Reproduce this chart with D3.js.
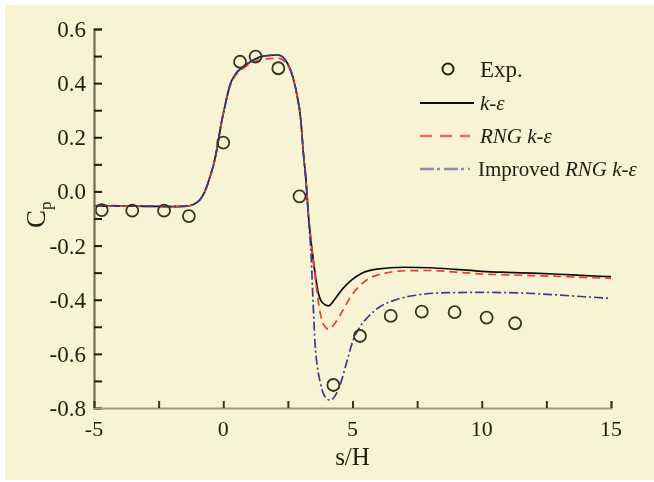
<!DOCTYPE html>
<html>
<head>
<meta charset="utf-8">
<script src="https://cdn.jsdelivr.net/npm/d3@7"></script>
<style>
  body { margin: 0; background: #fff; }
  text { font-family: "Liberation Serif", "Times New Roman", Times, serif; fill: #221d12; }
</style>
</head>
<body>
<svg width="654" height="482"></svg>
<script>
var svg = d3.select('svg');
var w = 654;
var h = 482;

// axis ticks
var xTicks = [-5, 0, 5, 10, 15];
var xMinor = [-2.5, 2.5, 7.5, 12.5];
var yTicks = [0.6, 0.4, 0.2, 0.0, -0.2, -0.4, -0.6, -0.8];
var yMinor = [0.5, 0.3, 0.1, -0.1, -0.3, -0.5, -0.7];

// experiment
var expData = [[-4.70,-0.069],[-3.52,-0.071],[-2.29,-0.071],[-1.33,-0.091],[0.0,0.18],
  [0.65,0.479],[1.25,0.498],[2.13,0.455],[2.95,-0.018],[4.26,-0.715],[5.29,-0.534],
  [6.48,-0.46],[7.68,-0.444],[8.95,-0.446],[10.19,-0.466],[11.29,-0.487]];

// k-epsilon
var keData = [[-5,-0.054],[-4,-0.054],[-3,-0.055],[-2,-0.056],[-1.5,-0.055],[-1.2,-0.05],
  [-0.9,-0.031],[-0.71,0.0],[-0.51,0.055],[-0.36,0.104],[-0.23,0.165],[-0.1,0.239],
  [0.03,0.30],[0.16,0.356],[0.26,0.393],[0.45,0.43],[0.78,0.461],[1.16,0.485],[1.55,0.50],
  [2.13,0.504],[2.45,0.479],[2.69,0.424],[2.84,0.362],[3.0,0.264],[3.1,0.141],[3.2,0.042],
  [3.29,-0.081],[3.42,-0.204],[3.55,-0.302],[3.68,-0.376],[3.85,-0.412],[4.07,-0.423],
  [4.3,-0.40],[4.58,-0.364],[4.97,-0.327],[5.36,-0.302],[5.94,-0.287],[7,-0.28],[8,-0.282],
  [9,-0.288],[10,-0.295],[11,-0.299],[12,-0.302],[13,-0.306],[14,-0.311],[15,-0.315]];

// RNG k-epsilon
var rngData = [[-5,-0.054],[-4,-0.054],[-3,-0.055],[-2,-0.056],[-1.5,-0.055],[-1.2,-0.05],
  [-0.9,-0.031],[-0.71,0.0],[-0.51,0.055],[-0.36,0.104],[-0.23,0.165],[-0.1,0.239],
  [0.03,0.30],[0.16,0.352],[0.26,0.388],[0.45,0.425],[0.78,0.455],[1.16,0.476],[1.55,0.488],
  [2.13,0.492],[2.45,0.472],[2.69,0.42],[2.84,0.36],[3.0,0.264],[3.1,0.141],[3.2,0.042],
  [3.29,-0.081],[3.42,-0.204],[3.55,-0.31],[3.74,-0.444],[3.9,-0.495],[4.07,-0.509],
  [4.3,-0.49],[4.52,-0.457],[4.97,-0.383],[5.55,-0.327],[6.26,-0.302],[7.03,-0.293],
  [8,-0.292],[9,-0.298],[10,-0.305],[11,-0.308],[12,-0.311],[13,-0.314],[14,-0.318],[15,-0.321]];

// improved RNG k-epsilon
var impData = [[-5,-0.052],[-4,-0.053],[-3,-0.054],[-2,-0.055],[-1.5,-0.054],[-1.2,-0.049],
  [-0.9,-0.03],[-0.71,0.0],[-0.51,0.055],[-0.36,0.104],[-0.23,0.165],[-0.1,0.239],
  [0.03,0.30],[0.16,0.356],[0.26,0.393],[0.45,0.43],[0.78,0.461],[1.16,0.485],[1.55,0.50],
  [2.13,0.503],[2.45,0.478],[2.69,0.424],[2.84,0.362],[3.0,0.264],[3.1,0.141],[3.2,0.042],
  [3.29,-0.09],[3.4,-0.24],[3.48,-0.42],[3.55,-0.56],[3.64,-0.647],[3.74,-0.70],[3.87,-0.746],
  [4.0,-0.765],[4.13,-0.771],[4.25,-0.765],[4.38,-0.746],[4.58,-0.697],[4.78,-0.629],
  [5.03,-0.549],[5.29,-0.50],[5.61,-0.463],[6.06,-0.426],[6.71,-0.399],[7.48,-0.383],
  [8.64,-0.374],[10,-0.373],[11,-0.374],[12,-0.377],[13,-0.383],[14,-0.389],[15,-0.395]];

var x = d3.scaleLinear().domain([-5, 15]).range([94, 611]);
var y = d3.scaleLinear().domain([-0.8, 0.6]).range([408, 29]);

// soften everything a little, like the scanned original
var defs = svg.append("defs");
defs.append("filter").attr("id", "soft")
  .append("feGaussianBlur").attr("stdDeviation", 0.55);

svg.append("rect").attr("x", 5).attr("y", 5).attr("width", w - 5).attr("height", 475)
  .attr("fill", "#f7f3d4");

var g = svg.append("g").attr("filter", "url(#soft)");

var line = d3.line().x(function(d) { return x(d[0]) }).y(function(d) { return y(d[1]) })
  .curve(d3.curveMonotoneX);

g.append("path").datum(keData).attr("d", line).attr("fill", "none")
  .attr("stroke", "#111").attr("stroke-width", 1.7);
g.append("path").datum(rngData).attr("d", line).attr("fill", "none")
  .attr("stroke", "#ee3b2e").attr("stroke-width", 1.7).attr("stroke-dasharray", "8,5");
g.append("path").datum(impData).attr("d", line).attr("fill", "none")
  .attr("stroke", "#3b3b92").attr("stroke-width", 1.7).attr("stroke-dasharray", "9,3,2,3");

g.selectAll("circle.exp").data(expData).enter()
  .append("circle").attr("class", "exp")
  .attr("cx", function(d) { return x(d[0]) }).attr("cy", function(d) { return y(d[1]) })
  .attr("r", 6).attr("fill", "none").attr("stroke", "#3a3222").attr("stroke-width", 1.8);

// axes
var yAxis = d3.axisRight(y).tickValues(yTicks.concat(yMinor)).tickSize(8).tickFormat("");
var ya = g.append("g").attr("transform", "translate(" + x(-5) + ",0)").call(yAxis);
ya.select(".domain").attr("stroke", "#7a6a50").attr("stroke-width", 2.2);
ya.selectAll(".tick line").attr("stroke", "#1e1a12").attr("stroke-width", 2);

var xAxis = d3.axisTop(x).tickValues(xTicks.concat(xMinor)).tickSize(7).tickFormat("");
var xa = g.append("g").attr("transform", "translate(0," + y(-0.8) + ")").call(xAxis);
xa.select(".domain").attr("stroke", "#a89878").attr("stroke-width", 2.2);
xa.selectAll(".tick line").attr("stroke", "#3a3020").attr("stroke-width", 2);

g.selectAll("text.ylab").data(yTicks).enter()
  .append("text").attr("class", "ylab")
  .attr("x", 86).attr("y", function(d) { return y(d) + 8 })
  .attr("text-anchor", "end").attr("font-size", 23)
  .text(function(d) { return d3.format(".1f")(d).replace("−", "-") });

g.selectAll("text.xlab").data(xTicks).enter()
  .append("text").attr("class", "xlab")
  .attr("x", function(d) { return x(d) }).attr("y", 436)
  .attr("text-anchor", "middle").attr("font-size", 22)
  .text(function(d) { return d3.format("d")(d).replace("−", "-") });

g.append("text").attr("x", x(5)).attr("y", 465).attr("text-anchor", "middle")
  .attr("font-size", 25).text("s/H");

var cp = g.append("text").attr("transform", "translate(45,228) rotate(-90)")
  .attr("font-size", 27);
cp.append("tspan").text("C");
cp.append("tspan").attr("font-size", 17).attr("dy", 6).text("p");

// legend
var lg = g.append("g");
lg.append("circle").attr("cx", 448).attr("cy", 69).attr("r", 5.5)
  .attr("fill", "none").attr("stroke", "#2a2418").attr("stroke-width", 2);
lg.append("text").attr("x", 480).attr("y", 77).attr("font-size", 23).text("Exp.");

lg.append("line").attr("x1", 420).attr("x2", 474).attr("y1", 103).attr("y2", 103)
  .attr("stroke", "#111").attr("stroke-width", 2);
lg.append("text").attr("x", 480).attr("y", 110).attr("font-size", 21)
  .attr("font-style", "italic").text("k-ε");

lg.append("line").attr("x1", 420).attr("x2", 470).attr("y1", 136).attr("y2", 136)
  .attr("stroke", "#f26a5c").attr("stroke-width", 2.5).attr("stroke-dasharray", "12,8");
lg.append("text").attr("x", 480).attr("y", 143).attr("font-size", 21)
  .attr("font-style", "italic").text("RNG k-ε");

lg.append("line").attr("x1", 420).attr("x2", 470).attr("y1", 169).attr("y2", 169)
  .attr("stroke", "#9a88b8").attr("stroke-width", 2.5).attr("stroke-dasharray", "14,3,3,4");
var imp = lg.append("text").attr("x", 478).attr("y", 176).attr("font-size", 21);
imp.append("tspan").text("Improved ");
imp.append("tspan").attr("font-style", "italic").text("RNG k-ε");
</script>
</body>
</html>
